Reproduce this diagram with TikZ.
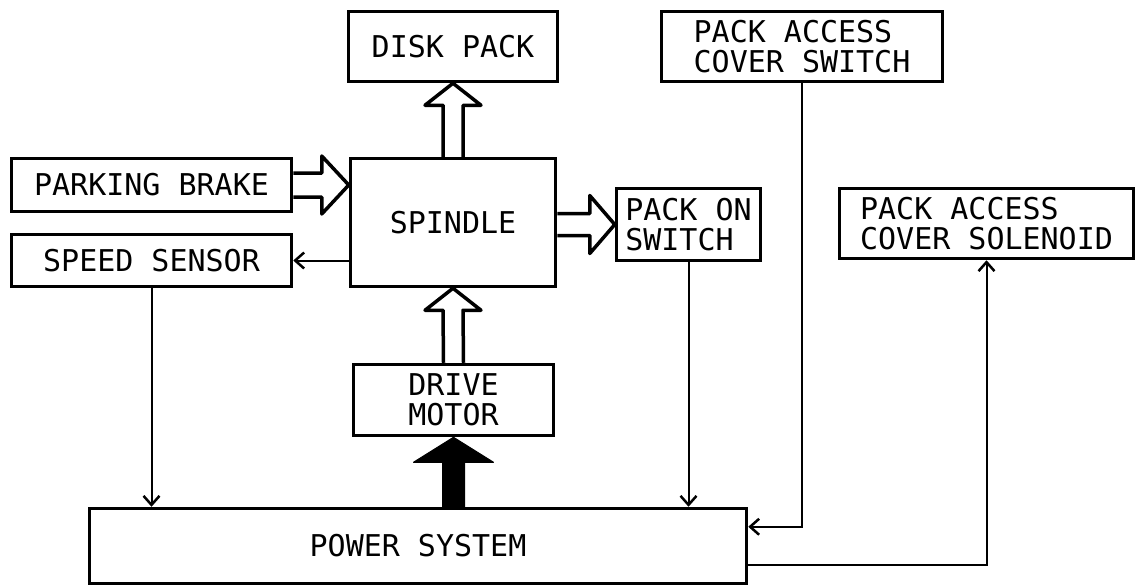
\documentclass[tikz,border=0pt]{standalone}
\usepackage{fontspec}
\newfontfamily\labelfont{DejaVu Sans Mono}
\usetikzlibrary{arrows.meta,calc,positioning}

\begin{document}
\begin{tikzpicture}[x=1pt,y=-1pt,font=\labelfont\fontsize{30}{30}\selectfont,
  blk/.style={draw,line width=3.5pt,inner sep=0pt,align=center},
  conn/.style={line width=2pt,-{Straight Barb[length=9pt,width=16pt,line width=2.5pt]}},
  hollow/.style={line width=3.5pt,line join=round},
  blackarrow/.style={fill=black,draw=black,line width=1pt,line join=round}]
\useasboundingbox (0,0) rectangle (1137,587);
% blocks
\node[blk,minimum width=209pt,minimum height=70pt] (disk) at (453,46.5) {DISK PACK};
\node[blk,minimum width=281pt,minimum height=70pt,align=left] (pacs) at (802,46.5) {PACK ACCESS\\COVER SWITCH};
\node[blk,minimum width=280pt,minimum height=53pt] (parking) at (151.5,185) {PARKING BRAKE};
\node[blk,minimum width=280pt,minimum height=52pt] (speed) at (151.5,260.5) {SPEED SENSOR};
\node[blk,minimum width=205pt,minimum height=128pt] (spindle) at (453,222.5) {SPINDLE};
\node[blk,minimum width=144pt,minimum height=72pt,align=left] (pon) at (688.5,224.5) {PACK ON\\SWITCH};
\node[blk,minimum width=294pt,minimum height=70pt,align=left] (sol) at (986.5,223.5) {PACK ACCESS\\COVER SOLENOID};
\node[blk,minimum width=200pt,minimum height=71pt] (drive) at (453.5,400) {DRIVE\\MOTOR};
\node[blk,minimum width=657pt,minimum height=75pt] (power) at (418,546) {POWER SYSTEM};
% mechanical links
\draw[hollow] ($(spindle.north)+(-10,0)$) -- ($(disk.south)+(-10,22)$) -- ++(-18,0) -- (disk.south) -- ++(28,22) -- ++(-18,0) -- ($(spindle.north)+(10,0)$);
\draw[hollow] ($(drive.north)+(-10,0)$) -- ($(spindle.south)+(-10,22)$) -- ++(-18,0) -- (spindle.south) -- ++(28,22) -- ++(-18,0) -- ($(drive.north)+(10,0)$);
\draw[hollow] ($(parking.east)+(0,-12)$) -- ($(spindle.west |- parking.east)+(-27,-12)$) -- ++(0,-17) -- (spindle.west |- parking.east) -- ++(-27,29) -- ++(0,-17) -- ($(parking.east)+(0,12)$);
\draw[hollow] ($(spindle.east |- pon.west)+(0,-11)$) -- ($(pon.west)+(-25,-11)$) -- ++(0,-18) -- (pon.west) -- ++(-25,29) -- ++(0,-18) -- ($(spindle.east |- pon.west)+(0,11)$);
\filldraw[blackarrow] ($(power.north -| drive.south)+(-11,0)$) -- ($(drive.south)+(-11,25)$) -- ++(-29,0) -- (drive.south) -- ++(40,25) -- ++(-29,0) -- ($(power.north -| drive.south)+(11,0)$) -- cycle;
% signals
\draw[conn] (spindle.west |- speed.east) -- (speed.east);
\draw[conn] (speed.south) -- (speed.south |- power.north);
\draw[conn] (pon.south) -- (pon.south |- power.north);
\draw[conn] (pacs.south) |- ($(power.north east)+(0,20)$);
\draw[conn] ($(power.south east)+(0,-20)$) -| (sol.south);
\end{tikzpicture}
\end{document}
